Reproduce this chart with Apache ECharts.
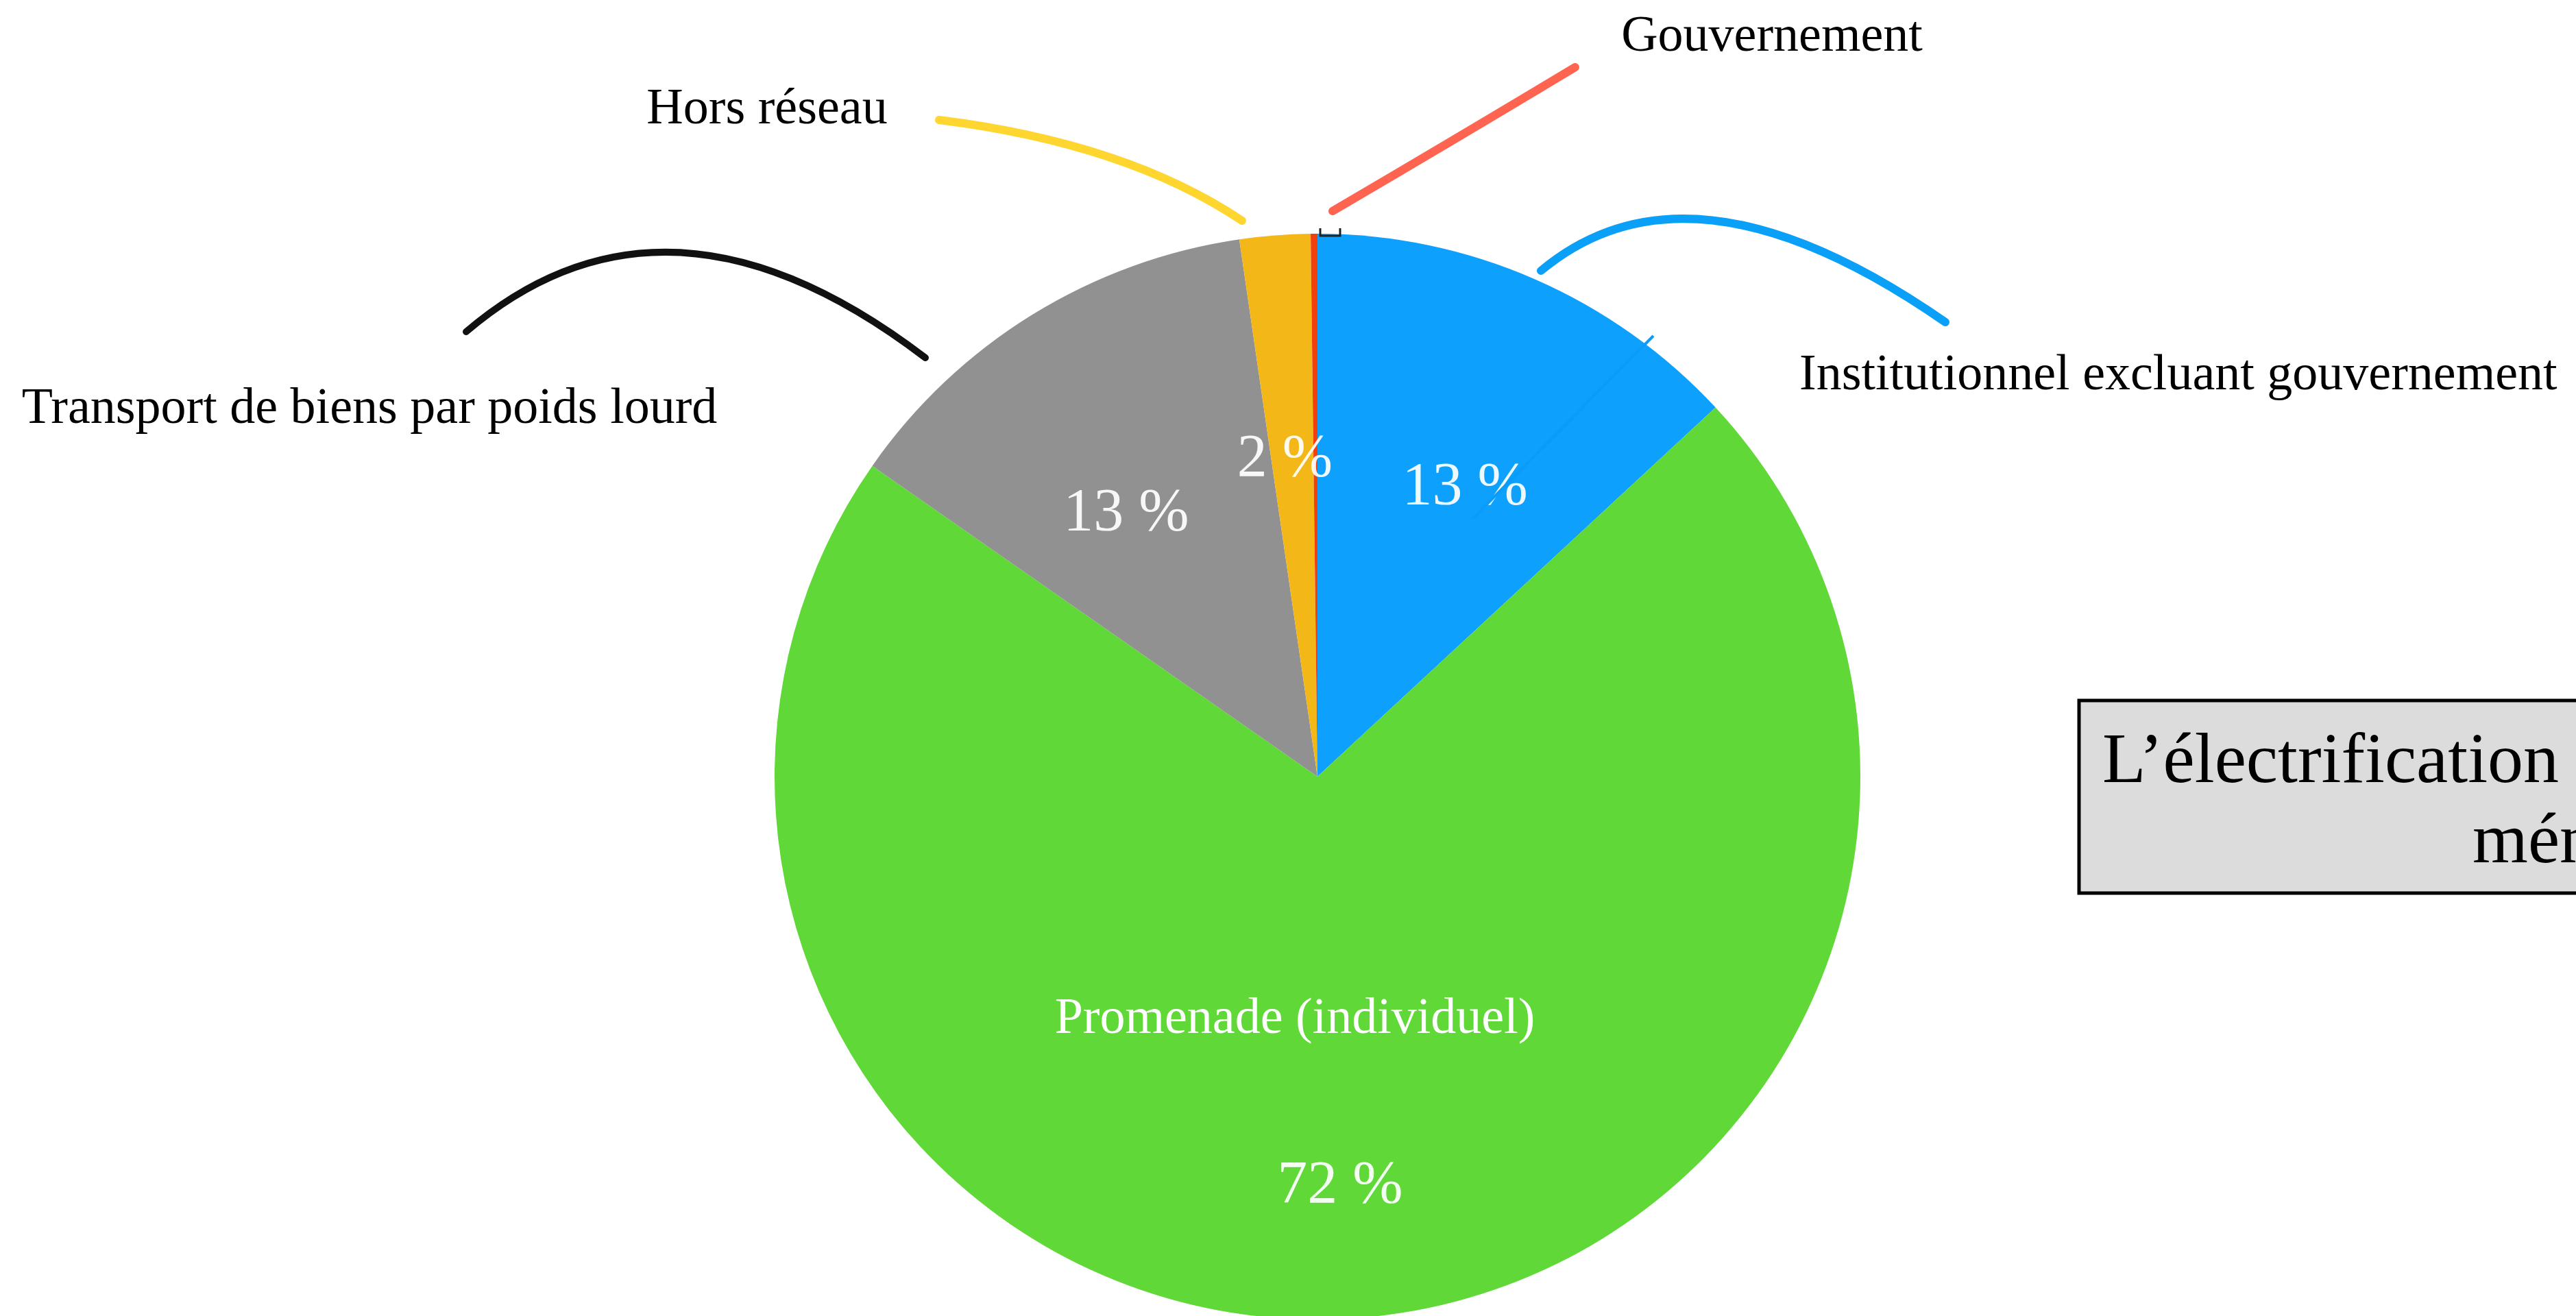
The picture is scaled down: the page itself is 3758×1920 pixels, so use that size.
<!DOCTYPE html>
<html>
<head>
<meta charset="utf-8">
<script src="https://cdn.jsdelivr.net/npm/echarts@6/dist/echarts.min.js"></script>
<style>
html,body{margin:0;padding:0;background:#fff;}
#chart{width:3758px;height:1920px;}
</style>
</head>
<body>
<div id="chart"></div>
<script>
// ---- data ----
const categories = ['Institutionnel excluant gouvernement', 'Promenade (individuel)', 'Transport de biens par poids lourd', 'Hors réseau', 'Gouvernement'];
const shares = [13.1, 71.6, 13.0, 2.1, 0.2];
const sliceColors = ['#0ea0fd', '#60d838', '#919191', '#f3b718', '#f2400c'];
const titleLines = ['L’électrification', 'mén'];

const FONT = "'Liberation Serif', 'Times New Roman', serif";
const CX = 1922, CY = 1133, R = 792;
// small nudges of the inside percentage labels (layout only)
const labelNudges = [[24, 17], [0, 2], [-28, 24], [-10, 14], [0, 0]];

const pieData = categories.map((c, i) => ({ name: c, value: shares[i], itemStyle: { color: sliceColors[i] } }));
const labelData = categories.map((c, i) => ({ name: c, value: shares[i] }));

function labelFmt(p) {
  const pct = Math.round(p.percent);
  if (pct < 1) return '';
  if (p.dataIndex === 1) return '{name|' + p.name + '}\n{gap| }\n{pct|' + pct + ' %}';
  return '{pct|' + pct + ' %}';
}

// external category labels (text comes from categories)
const extLabels = [
  { idx: 4, x: 2585, y: 55, align: 'center' },
  { idx: 3, x: 1119, y: 161, align: 'center' },
  { idx: 2, x: 539, y: 598, align: 'center' },
  { idx: 0, x: 2625, y: 549, align: 'left' }
];

function stroke(shape, color, w) {
  return {
    type: 'bezierCurve', shape: shape, silent: true,
    style: { stroke: color, lineWidth: w, fill: null, lineCap: 'round' }
  };
}

const graphics = [];
// hand-drawn strokes
graphics.push(stroke({ x1: 680, y1: 484, cpx1: 973, cpy1: 234, x2: 1350, y2: 522 }, '#111', 10));
graphics.push(stroke({ x1: 1370, y1: 175, cpx1: 1643, cpy1: 209, x2: 1812, y2: 322 }, '#ffd630', 12));
graphics.push(stroke({ x1: 1944, y1: 308, cpx1: 2120, cpy1: 205, x2: 2298, y2: 98 }, '#ff6450', 12));
graphics.push(stroke({ x1: 2248, y1: 395, cpx1: 2467, cpy1: 212, x2: 2838, y2: 470 }, '#0aa0f8', 12));
graphics.push({ type: 'line', silent: true, z: 10, shape: { x1: 2412, y1: 490, x2: 2148, y2: 757 }, style: { stroke: '#0a9cf8', lineWidth: 4 } });
graphics.push({ type: 'polyline', silent: true, z: 10, shape: { points: [[1926, 333], [1926, 344], [1955, 344], [1955, 333]] }, style: { stroke: '#222', lineWidth: 3, fill: null } });

extLabels.forEach(l => {
  graphics.push({
    type: 'text', silent: true, x: l.x, y: l.y,
    style: { text: categories[l.idx], font: '74px ' + FONT, fill: '#000', align: l.align, verticalAlign: 'middle' }
  });
});

// title box
graphics.push({ type: 'rect', silent: true, shape: { x: 3033, y: 1022, width: 900, height: 281 }, style: { fill: '#dcdcdc', stroke: '#000', lineWidth: 5 } });
graphics.push({ type: 'text', silent: true, x: 3067, y: 1114, style: { text: titleLines[0], font: '104px ' + FONT, fill: '#000', align: 'left', verticalAlign: 'middle' } });
graphics.push({ type: 'text', silent: true, x: 3607, y: 1231, style: { text: titleLines[1], font: '104px ' + FONT, fill: '#000', align: 'left', verticalAlign: 'middle' } });

const chart = echarts.init(document.getElementById('chart'), null, { renderer: 'canvas' });
chart.setOption({
  animation: false,
  backgroundColor: '#ffffff',
  series: [
    {
      type: 'pie', center: [CX, CY], radius: R, startAngle: 90, clockwise: true,
      silent: true, label: { show: false }, labelLine: { show: false },
      data: pieData
    },
    {
      type: 'pie', center: [CX, CY], radius: [0, 950], startAngle: 90, clockwise: true,
      silent: true, z: 3,
      itemStyle: { color: 'rgba(0,0,0,0)', borderWidth: 0 },
      labelLine: { show: false },
      labelLayout: function (p) {
        const n = labelNudges[p.dataIndex] || [0, 0];
        return { dx: n[0], dy: n[1] };
      },
      label: {
        show: true, position: 'inside', formatter: labelFmt, fontFamily: FONT,
        rich: {
          name: { fontSize: 74, fontFamily: FONT, color: '#ffffff', lineHeight: 90, padding: [0, 132, 0, 0] },
          gap: { fontSize: 10, lineHeight: 148 },
          pct: { fontSize: 88, fontFamily: FONT, color: 'rgba(255,255,255,0.93)', lineHeight: 100 }
        }
      },
      data: labelData
    }
  ],
  graphic: graphics
});
</script>
</body>
</html>
